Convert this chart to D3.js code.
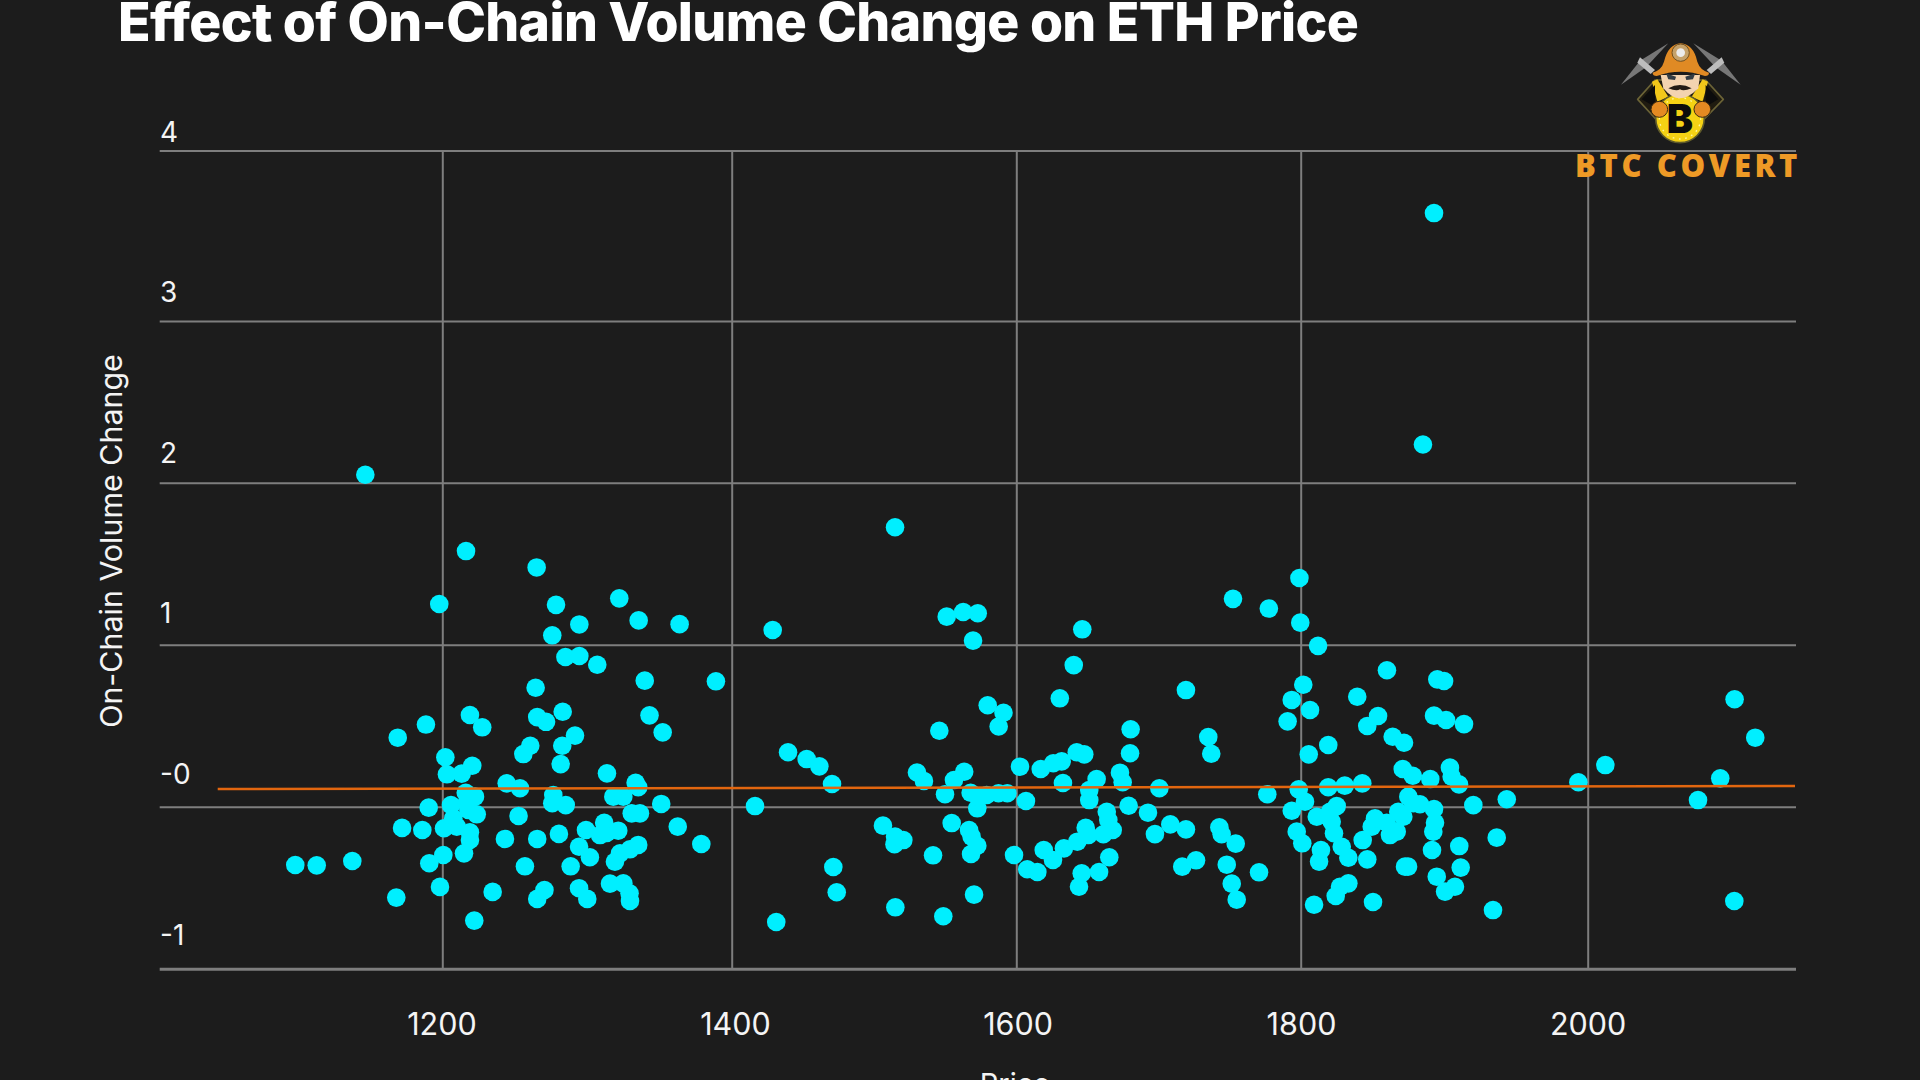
<!DOCTYPE html>
<html><head><meta charset="utf-8">
<script src="https://cdn.jsdelivr.net/npm/d3@7/dist/d3.min.js"></script>
<style>html,body{margin:0;padding:0;background:#1c1c1c;overflow:hidden}svg{display:block}text{font-family:Inter,sans-serif}</style>
</head><body><svg id="c" width="1920" height="1080"></svg>
<script>
const titleText = "Effect of On-Chain Volume Change on ETH Price";
const xTitle = "Price";
const yTitle = "On-Chain Volume Change";
const logoText = "BTC COVERT";
const xTicks = [1200,1400,1600,1800,2000];
const yTicks = [-1,0,1,2,3,4];
const yTickLabels = ["-1","-0","1","2","3","4"];
const trendPrice = [1044.8,2144.5];
const trendChange = [0.109,0.128];
const price = [1098.4,1113.2,1137.8,1146.8,1168.2,1169.2,1172.2,1186.2,1188.7,1190.6,1191,1197.9,1198.4,1200.7,1201.2,1202.1,1203.2,1206,1207.6,1210,
1213.4,1215,1216.2,1216.4,1216.9,1218,1219.1,1219.1,1219.1,1220.7,1222.1,1222.6,1223.8,1227.6,1234.8,1243.3,1244.5,1252.7,1253.7,1256,
1257.1,1260.8,1264.5,1265.2,1265.6,1265.6,1265.6,1270.6,1271.7,1276,1276,1276.7,1278.6,1280.6,1281.8,1282.9,1283.2,1285.1,1285.3,1288.7,
1291.7,1294.5,1294.5,1294.7,1294.7,1299.3,1300.2,1302,1307.1,1309,1311.9,1313.6,1313.8,1315.9,1318.2,1319.3,1321.6,1322.3,1322.8,1325.1,
1325.1,1329.4,1329.7,1329.7,1330.9,1333.6,1335.4,1335.4,1335.7,1336.6,1339.9,1343.2,1351.3,1352.3,1362.7,1364,1379,1389.1,
1416.4,1428.8,1431.3,1439.6,1452.7,1461.6,1470.5,1471.4,1473.8,1506.3,1514.4,1514.8,1514.8,1515,1520.6,1530.2,1535.1,1541.5,1545.9,1548.7,
1549.9,1551.1,1554.6,1556.2,1562.7,1563.4,1566.8,1567.9,1568.2,1568.6,1569.6,1570.3,1572.6,1572.6,1572.9,1573.3,1579.2,1579.9,1587.5,1587.6,
1591,1593.7,1598.4,1602.6,1606.8,1607.7,1614.8,1617.2,1619.3,1625.8,1626,1630.6,1631.9,1632.8,1633.5,1640.4,1642.5,1642.9,1644.1,1646,
1646.4,1647.8,1648.8,1650.6,1651.3,1651.3,1656.5,1658.2,1661.2,1663.6,1664.7,1665.4,1667.8,1672.9,1674.8,1679,1680,1680.4,1692.6,1697.5,
1700.6,1708.3,1716.7,1719.3,1719.3,1726.4,1735,1737.1,1742.8,1744.4,1748,1751.5,1752.4,1754.3,1755,1770.7,1776.5,1777.6,1790.8,1793.7,
1793.7,1797.2,1798.6,1799.1,1799.7,1801.1,1801.8,1803,1805.6,1806.5,1809.3,1811.2,1812.1,1812.8,1814.1,1819.2,1819.2,1820.4,1821.6,1823.2,
1824.4,1825.1,1827.4,1828.6,1830.7,1833.2,1833.2,1839.4,1842.9,1843.2,1846.4,1846.4,1849.5,1850.4,1851.8,1853.9,1859.9,1860.1,1862.2,1864.1,
1866.9,1868,1871.1,1871.5,1872,1872.7,1874.8,1875,1878.1,1878.5,1883.1,1885.2,1890.3,1891.5,1892.4,1892.9,1892.9,1892.9,1893.6,1894.8,
1895.2,1899.9,1900.6,1901.3,1904,1905.2,1907.5,1910.3,1910.5,1911.5,1913.8,1920.3,1934,1936.6,1943.6,1993.5,2012.3,2076.9,2092.4,2102.4,2102.2,2116.8];
const volumeChange = [-0.36,-0.362,-0.335,2.049,-0.561,0.426,-0.131,-0.144,0.507,-0.006,-0.349,1.251,-0.495,-0.298,-0.133,0.305,0.2,0.01,-0.072,-0.123,
0.204,-0.288,0.086,1.578,0.023,-0.02,0.566,-0.158,-0.205,0.253,-0.703,0.062,-0.047,0.49,-0.526,-0.199,0.144,-0.057,0.114,0.325,
-0.368,0.376,0.734,1.477,0.553,-0.199,-0.569,-0.514,0.524,1.058,0.021,0.072,1.246,-0.168,0.263,0.376,0.586,0.924,0.01,-0.368,
0.439,-0.247,-0.503,1.125,0.93,-0.144,-0.569,-0.312,0.876,-0.175,-0.099,-0.162,0.206,-0.475,0.062,-0.34,-0.148,1.286,-0.288,0.062,
-0.473,-0.535,-0.263,-0.582,-0.041,0.148,0.12,-0.236,1.15,-0.041,0.778,0.564,0.017,0.459,-0.123,1.127,-0.23,0.774,
0.004,1.091,-0.712,0.336,0.294,0.249,0.14,-0.372,-0.528,-0.117,-0.232,-0.185,1.725,-0.621,-0.206,0.211,0.159,-0.3,0.469,-0.676,
0.077,1.173,-0.101,0.165,1.202,0.216,-0.144,0.086,-0.292,-0.185,1.025,-0.543,-0.01,-0.241,1.194,0.062,0.072,0.626,0.083,0.495,
0.58,0.083,-0.298,0.247,0.035,-0.386,-0.403,0.233,-0.267,-0.329,0.268,0.669,0.28,0.146,-0.257,0.874,0.336,-0.216,-0.494,-0.411,
1.095,0.323,-0.13,-0.175,0.103,0.041,0.171,-0.403,-0.17,-0.031,-0.082,-0.312,-0.144,0.21,0.151,0.006,0.33,0.478,-0.037,-0.169,
0.114,-0.109,-0.37,0.72,-0.14,-0.331,0.43,0.327,-0.127,-0.17,-0.358,-0.475,1.283,-0.228,-0.574,-0.405,0.077,1.223,0.527,0.659,
-0.025,-0.154,0.107,1.412,1.136,-0.226,0.753,0.031,0.323,0.597,-0.605,-0.062,0.993,-0.339,-0.267,0.381,0.12,-0.031,-0.093,-0.164,
-0.551,0.004,-0.494,-0.247,0.13,-0.315,-0.473,0.679,0.144,-0.206,0.498,-0.325,-0.123,-0.588,-0.072,0.56,-0.099,0.842,-0.175,0.432,
-0.154,-0.031,0.233,-0.062,0.395,-0.37,-0.37,0.062,0.191,0.021,0.015,2.236,0.171,-0.267,-0.154,3.633,0.562,-0.014,-0.099,-0.432,
0.786,0.776,-0.524,0.535,0.241,0.185,-0.494,0.138,-0.243,-0.376,0.51,0.01,-0.638,-0.191,0.046,0.151,0.257,0.041,0.175,0.663,-0.582,0.426];

const svg = d3.select("#c");
const x = d3.scaleLinear().domain([1004.7,1200,1400,1600,1800,2000,2145.2]).range([159.7,442.3,731.7,1016.3,1300.7,1587.7,1796]);
const xLabel = d3.scaleLinear().domain([1200,1400,1600,1800,2000]).range([441.4,735,1017.6,1301,1587.6]);
const y = d3.scaleLinear().domain([-1,0,1,2,3,4]).range([968.7,806.7,644.7,482.7,321,150.5]);
const yLabel = d3.scaleLinear().domain([-1,4]).range([944,141]);
const gridColor = "#7e7e7e", textColor = "#f4f4f4";

// grid
const gx = svg.append("g").attr("transform","translate(0,968.7)")
  .call(d3.axisBottom(x).tickValues(xTicks).tickSize(-(968.7-150.5)).tickFormat(d3.format("d")));
gx.select(".domain").remove();
gx.selectAll(".tick line").attr("stroke",gridColor).attr("stroke-width",2);
gx.selectAll(".tick text").attr("y",66).attr("dy",0).attr("x",d=>xLabel(d)-x(d)).attr("fill",textColor).style("font-size","30.5px").style("font-family","Inter");
const gy = svg.append("g").attr("transform","translate(159.7,0)")
  .call(d3.axisRight(y).tickValues(yTicks).tickSize(1796-159.7).tickFormat(""));
gy.select(".domain").remove();
gy.selectAll(".tick line").attr("stroke",gridColor).attr("stroke-width",d=>d===-1?3:2);
const gl = svg.append("g").attr("transform","translate(160,0)")
  .call(d3.axisRight(yLabel).tickValues(yTicks).tickSize(0).tickPadding(0).tickFormat((d,i)=>yTickLabels[i]));
gl.select(".domain").remove();
gl.selectAll(".tick text").attr("dy",0).attr("text-anchor","start").attr("fill",textColor).style("font-size","28px").style("font-family","Inter");

// points
svg.append("g").selectAll("circle").data(price).join("circle")
  .attr("cx",d=>x(d)).attr("cy",(d,i)=>y(volumeChange[i])).attr("r",9.3).attr("fill","#00efff");

// trend
const line = d3.line().x(d=>x(d[0])).y(d=>y(d[1]));
svg.append("path").attr("d",line(d3.zip(trendPrice,trendChange))).attr("fill","none").attr("stroke","#e2660f").attr("stroke-width",2.6);

// titles
svg.append("text").text(titleText).attr("x",118).attr("y",41).attr("fill","#fff").style("font-size","53.5px").style("font-weight",800).style("letter-spacing","-0.65px");
svg.append("text").text(xTitle).attr("x",1015).attr("y",1094).attr("text-anchor","middle").attr("fill",textColor).style("font-size","29px");
svg.append("text").text(yTitle).attr("transform","translate(122,541) rotate(-90)").attr("text-anchor","middle").attr("fill",textColor).style("font-size","30.4px");

// logo
const L = svg.append("g").attr("transform","translate(1540,20) scale(0.3333)");
const P=(d,f,s,w)=>L.append("path").attr("d",d).attr("fill",f||"none").attr("stroke",s||"none").attr("stroke-width",w||0).attr("stroke-linejoin","round").attr("stroke-linecap","round");
// picks
P("M385 70 L300 122 L243 194 L318 142 Z","#777");
P("M460 70 L545 122 L602 194 L527 142 Z","#777");
P("M300 112 L345 150 L332 162 L292 128 Z","#bdbdbd");
P("M545 112 L500 150 L513 162 L553 128 Z","#bdbdbd");
// diamond body
P("M345 180 L293 238 L350 300 L490 300 L550 238 L497 180 Z","#1f1b10","#6b6336",5);
P("M336 185 L352 178 L385 230 L352 245 Z","#f2c81a");
P("M504 185 L488 178 L455 230 L488 245 Z","#f2c81a");
P("M305 238 L345 195 L345 260 Z","#0c0c0c");
P("M535 238 L497 195 L497 260 Z","#0c0c0c");
// coin
L.append("circle").attr("cx",420).attr("cy",295).attr("r",73).attr("fill","#f5d214").attr("stroke","#5f5a2a").attr("stroke-width",5);
L.append("circle").attr("cx",420).attr("cy",295).attr("r",62).attr("fill","none").attr("stroke","#fff7a0").attr("stroke-width",4).attr("stroke-dasharray","5 14");
L.append("text").text("B").attr("x",420).attr("y",338).attr("text-anchor","middle").attr("fill","#0c0c0c").style("font-size","118px").style("font-weight",900).style("font-family","Inter");
// face
P("M362 165 L480 165 L475 205 Q445 235 420 235 Q395 235 370 205 Z","#f3d3b0");
P("M385 205 Q420 185 455 205 Q430 215 420 208 Q410 215 385 205 Z","#221a14");
P("M378 160 L408 170 L405 180 L385 178 Z","#333c44");
P("M466 160 L436 170 L439 180 L459 178 Z","#333c44");
// helmet
P("M338 158 Q365 150 372 125 Q385 72 422 70 Q460 72 472 125 Q480 150 507 158 Q507 168 495 168 Q422 142 350 168 Q338 168 338 158 Z","#e08a24");
L.append("circle").attr("cx",422).attr("cy",98).attr("r",26).attr("fill","#c6a26a").attr("stroke","#6e4f20").attr("stroke-width",3);
L.append("circle").attr("cx",422).attr("cy",98).attr("r",13).attr("fill","#ececec");
// hands
L.append("ellipse").attr("cx",358).attr("cy",268).attr("rx",25).attr("ry",24).attr("fill","#e48a22").attr("stroke","#3c2a10").attr("stroke-width",3);
L.append("ellipse").attr("cx",487).attr("cy",268).attr("rx",25).attr("ry",24).attr("fill","#e48a22").attr("stroke","#3c2a10").attr("stroke-width",3);
// logo text
svg.append("text").text(logoText).attr("x",1575).attr("y",177).attr("fill","#ee9a26")
  .style("font-family","'Open Sans'").style("font-size","31px").style("font-weight",800).style("letter-spacing","3.6px");
</script></body></html>
